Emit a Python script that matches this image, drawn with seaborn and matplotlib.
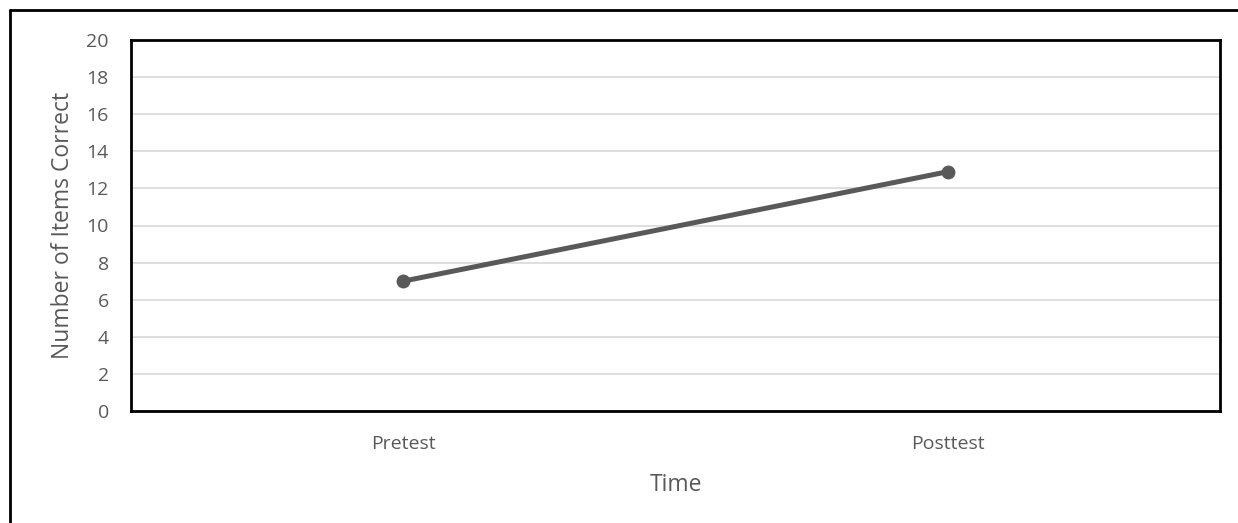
import pandas as pd
import matplotlib
matplotlib.use('Agg')
import matplotlib.pyplot as plt
from matplotlib.lines import Line2D
import seaborn as sns

# Chart data
times = ['Pretest', 'Posttest']
items_correct = [7.0, 12.9]
y_ticks = [0, 2, 4, 6, 8, 10, 12, 14, 16, 18, 20]

df = pd.DataFrame({'Time': times, 'Number of Items Correct': items_correct})

sns.set_style('white')
plt.rcParams['font.family'] = ['Open Sans', 'DejaVu Sans']

text_color = '#595959'
fig = plt.figure(figsize=(12.38, 5.23), dpi=100)
ax = fig.add_axes([131 / 1238, 1 - 411 / 523, (1220 - 131) / 1238, (411 - 40) / 523])

sns.lineplot(data=df, x='Time', y='Number of Items Correct', ax=ax,
             color='#595959', linewidth=3.6, marker='o', markersize=10,
             markeredgewidth=0, sort=False, zorder=3)

ax.set_xlim(-0.5, 1.5)
ax.set_ylim(0, 20)
ax.set_yticks(y_ticks)
ax.yaxis.grid(True, color='#d9d9d9', linewidth=1.2)
ax.set_axisbelow(True)

for s in ax.spines.values():
    s.set_color('black')
    s.set_linewidth(2)

ax.tick_params(axis='both', length=0, labelsize=14, labelcolor=text_color)
ax.tick_params(axis='y', pad=16)
ax.tick_params(axis='x', pad=17)
ax.set_xlabel('Time', fontsize=16.5, color=text_color, labelpad=15)
ax.set_ylabel('Number of Items Correct', fontsize=16.5, color=text_color, labelpad=8)

# outer frame (top and left edges visible in the crop)
x0, y0 = 10 / 1238, 1 - 10 / 523
fig.add_artist(Line2D([x0, 1], [y0, y0], color='black', linewidth=2, transform=fig.transFigure))
fig.add_artist(Line2D([x0, x0], [0, y0], color='black', linewidth=2, transform=fig.transFigure))

fig.savefig('out.png', dpi=100)
